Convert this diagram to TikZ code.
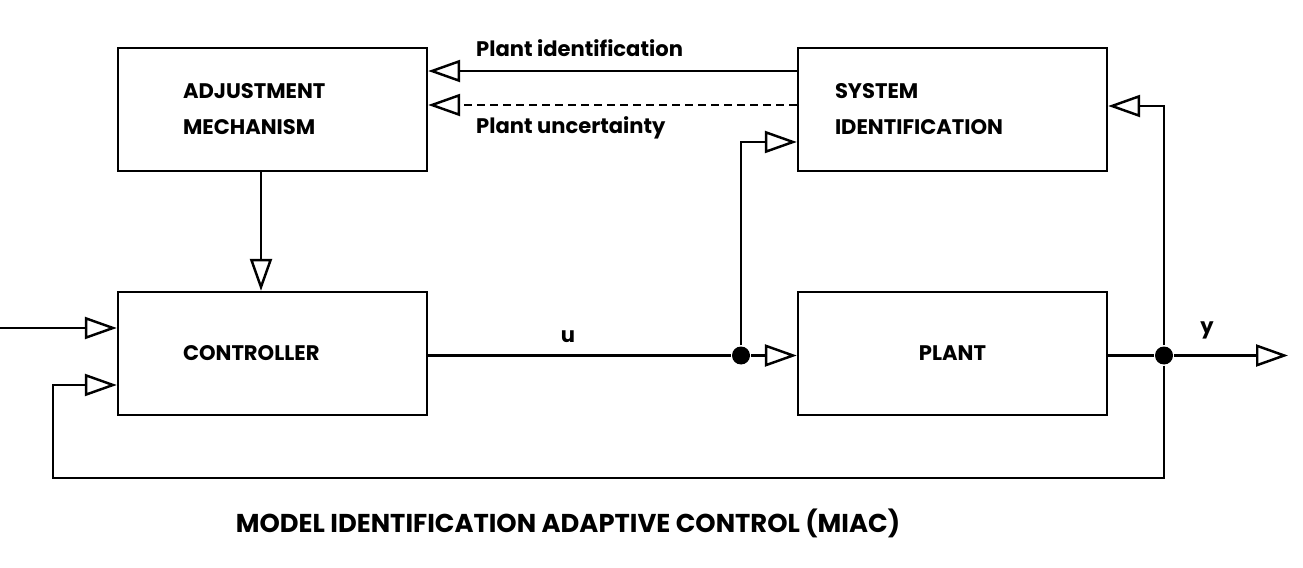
\documentclass[tikz,border=0pt]{standalone}
\usepackage{fontspec}
\setmainfont{Poppins}
\usetikzlibrary{arrows.meta}
\begin{document}
\begin{tikzpicture}[x=.02cm,y=-.02cm,line width=1.4pt,
  blk/.style={draw,minimum width=6.18cm,minimum height=2.46cm,inner xsep=1.3cm,inner ysep=0pt,
    text width=3.58cm,align=left,font=\bfseries\fontsize{12}{20.5}\selectfont},
  lbl/.style={inner sep=0pt,font=\bfseries\fontsize{12}{14}\selectfont},
  arr/.style={-{Triangle[open,length=.64cm,width=.44cm]}},
  dot/.style={circle,fill,inner sep=0pt,minimum size=.36cm}]
\useasboundingbox (0,0) rectangle (1303,568);
% blocks
\node[blk] (adj) at (272.5,109.5) {ADJUSTMENT\\MECHANISM};
\node[blk,inner xsep=.74cm,text width=4.7cm] (sid) at (952.5,109.5) {SYSTEM\\IDENTIFICATION};
\node[blk] (ctl) at (272.5,353.5) {CONTROLLER};
\node[blk,align=center] (plt) at (952.5,353.5) {PLANT};
% junctions and free ends
\node[dot] (ju) at (741,355.5) {};
\node[dot] (jy) at (1164,355.5) {};
\coordinate (in) at (0,328);
\coordinate (out) at (1288,355.5);
\coordinate (fb) at (53,478);
% labels
\node[lbl,anchor=west] (pid) at (475,48) {Plant identification};
\node[lbl,anchor=west] (punc) at (475,128) {Plant uncertainty};
\node[lbl] (ul) at (568,337) {u};
\node[lbl] (yl) at (1207,330) {y};
\node[lbl,font=\bfseries\fontsize{14.7}{17}\selectfont] (ttl) at (568,523) {MODEL IDENTIFICATION ADAPTIVE CONTROL (MIAC)};
% connectors
\draw[arr] ([yshift=.77cm]sid.west) -- ([yshift=.77cm]adj.east);
\draw[arr,dash pattern=on .16cm off .1cm] ([yshift=.09cm]sid.west) -- ([yshift=.09cm]adj.east);
\draw[arr] ([xshift=-.23cm]adj.south) -- ([xshift=-.23cm]ctl.north);
\draw[arr] (in) -- (in -| ctl.west);
\draw (ju -| ctl.east) -- (ju);
\draw[arr] (ju) -- (ju -| plt.west);
\draw[arr] (ju) |- ([yshift=-.65cm]sid.west);
\draw (jy -| plt.east) -- (jy);
\draw[arr] (jy) -- (out);
\draw[arr] (jy) |- ([yshift=.07cm]sid.east);
\draw[arr] (jy) |- (fb) |- ([yshift=-.63cm]ctl.west);
\end{tikzpicture}
\end{document}
